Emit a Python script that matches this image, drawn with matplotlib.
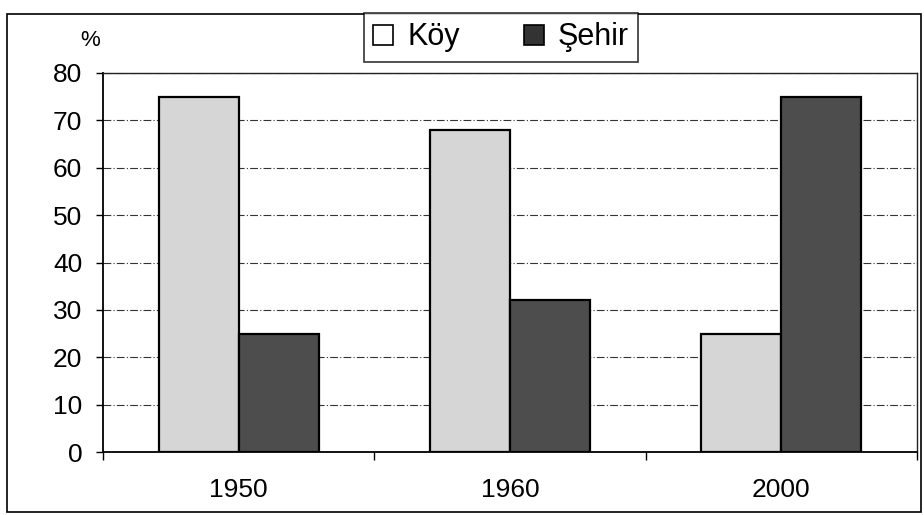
import matplotlib.pyplot as plt
from matplotlib.patches import Rectangle, Patch
import numpy as np

years = ['1950', '1960', '2000']
koy = [75, 68, 25]
sehir = [25, 32, 75]
series_names = ['Köy', 'Şehir']

plt.rcParams['font.family'] = ['Liberation Sans', 'DejaVu Sans']

fig = plt.figure(figsize=(9.24, 5.15), dpi=100)
ax = fig.add_axes([103/924, 1-452/515, 814/924, 379/515])

x = np.arange(len(years))
w = 0.295
ax.bar(x - w/2, koy, w, color='#d6d6d6', edgecolor='black', linewidth=1.6, zorder=3)
ax.bar(x + w/2, sehir, w, color='#4d4d4d', edgecolor='black', linewidth=1.6, zorder=3)

ax.set_xlim(-0.5, 2.5)
ax.set_ylim(0, 80)
ax.set_yticks(range(0, 81, 10))
ax.yaxis.grid(True, linestyle=(0, (7, 2, 1, 2)), linewidth=0.8, color='#333333', zorder=0)
ax.tick_params(axis='y', labelsize=19, length=5, width=1, pad=10)

ax.set_xticks(x)
ax.set_xticklabels(years)
ax.tick_params(axis='x', which='major', labelsize=19, length=0, pad=19)
ax.set_xticks([-0.5, 0.5, 1.5, 2.5], minor=True)
ax.tick_params(axis='x', which='minor', length=6, width=1)

for s in ['left', 'bottom']:
    ax.spines[s].set_linewidth(1.3)
for s in ['top', 'right']:
    ax.spines[s].set_linewidth(1.0)
    ax.spines[s].set_color('#222222')

fig.text(90/924, 1-41/515, '%', fontsize=16, ha='center', va='center')

handles = [Patch(facecolor='white', edgecolor='black', linewidth=1.2),
           Patch(facecolor='#333333', edgecolor='black', linewidth=1.2)]
leg = fig.legend(handles, series_names, loc='center', bbox_to_anchor=(501/924, 1-37.5/515),
                 ncol=2, fontsize=22, frameon=True, fancybox=False, edgecolor='black',
                 handlelength=0.65, handleheight=0.65, handletextpad=0.45, columnspacing=2.1,
                 borderpad=0.3, borderaxespad=0)
leg.get_frame().set_linewidth(1.2)

fig.patches.append(Rectangle((7/924, 3/515), 914/924, 498/515, transform=fig.transFigure,
                             fill=False, edgecolor='black', linewidth=1.2))

fig.savefig('out.png', dpi=100)
